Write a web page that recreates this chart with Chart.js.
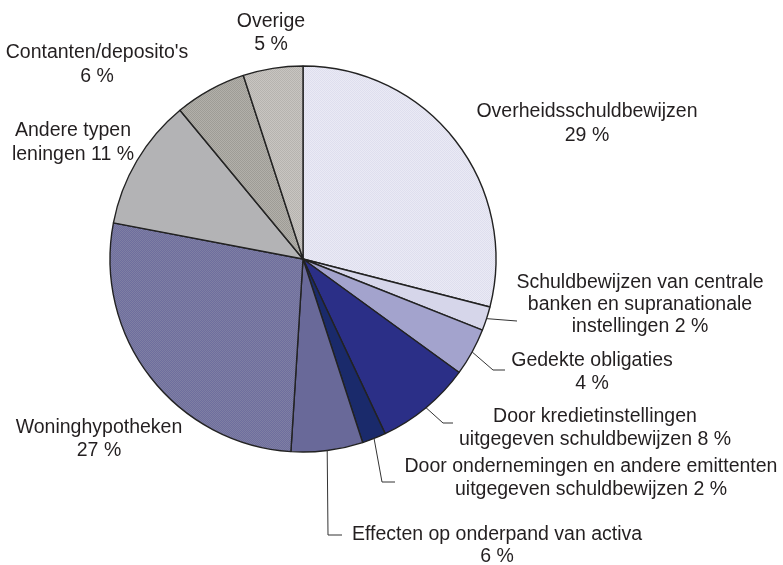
<!DOCTYPE html>
<html>
<head>
<meta charset="utf-8">
<script src="https://cdn.jsdelivr.net/npm/chart.js@4"></script>
<style>
  html, body { margin: 0; padding: 0; background: #fff; }
  #wrap { width: 783px; height: 565px; }
</style>
</head>
<body>
<div id="wrap"><canvas id="pieChart" width="783" height="565"></canvas></div>
<script>
const categories = [
  "Overheidsschuldbewijzen",
  "Schuldbewijzen van centrale banken en supranationale instellingen",
  "Gedekte obligaties",
  "Door kredietinstellingen uitgegeven schuldbewijzen",
  "Door ondernemingen en andere emittenten uitgegeven schuldbewijzen",
  "Effecten op onderpand van activa",
  "Woninghypotheken",
  "Andere typen leningen",
  "Contanten/deposito's",
  "Overige"
];
const shares = [29, 2, 4, 8, 2, 6, 27, 11, 6, 5];

// how each label is broken into lines; "{v}" becomes the share
const labelLines = [
  ["Overheidsschuldbewijzen", "{v} %"],
  ["Schuldbewijzen van centrale", "banken en supranationale", "instellingen {v} %"],
  ["Gedekte obligaties", "{v} %"],
  ["Door kredietinstellingen", "uitgegeven schuldbewijzen {v} %"],
  ["Door ondernemingen en andere emittenten", "uitgegeven schuldbewijzen {v} %"],
  ["Effecten op onderpand van activa", "{v} %"],
  ["Woninghypotheken", "{v} %"],
  ["Andere typen", "leningen {v} %"],
  ["Contanten/deposito's", "{v} %"],
  ["Overige", "{v} %"]
];

// label placement (text centre x, first line y, line gap) and leader path
const labelLayout = [
  { x: 587, y: 112, gap: 24, leader: null },
  { x: 640, y: 283, gap: 22, leader: [[517, 321]] },
  { x: 592, y: 361, gap: 23, leader: [[493, 370], [505, 370]] },
  { x: 595, y: 417, gap: 23, leader: [[443, 423], [453, 423]] },
  { x: 591, y: 467, gap: 23, leader: [[382, 482], [395, 482]] },
  { x: 497, y: 535, gap: 22, leader: [[328, 535], [342, 535]] },
  { x: 99, y: 428, gap: 23, leader: null },
  { x: 73, y: 131, gap: 24, leader: null },
  { x: 97, y: 53, gap: 24, leader: null },
  { x: 271, y: 22, gap: 23, leader: null }
];

function makePattern(base, dot, size) {
  const c = document.createElement("canvas");
  c.width = size;
  c.height = size;
  const g = c.getContext("2d");
  g.fillStyle = base;
  g.fillRect(0, 0, size, size);
  g.fillStyle = dot;
  const h = size / 2;
  g.fillRect(0, 0, h, h);
  g.fillRect(h, h, h, h);
  return g.createPattern(c, "repeat");
}

const sliceColors = [
  makePattern("#eaeaf5", "#dedeee", 2),
  "#d6d6ea",
  "#a3a3cd",
  "#2b2f87",
  "#1a2a6b",
  "#696999",
  makePattern("#6e6e9e", "#7f7fa3", 2),
  "#b3b3b5",
  makePattern("#b2b0aa", "#9e9c96", 2),
  makePattern("#c8c5c1", "#b6b3af", 2)
];

const labelPlugin = {
  id: "sliceLabels",
  afterDraw(chart) {
    const ctx = chart.ctx;
    const arcs = chart.getDatasetMeta(0).data;
    ctx.save();
    ctx.font = "19.5px 'Liberation Sans', Arial, sans-serif";
    ctx.fillStyle = "#231f20";
    ctx.textAlign = "center";
    ctx.textBaseline = "middle";
    arcs.forEach((arc, i) => {
      const lay = labelLayout[i];
      labelLines[i].forEach((line, k) => {
        ctx.fillText(line.replace("{v}", shares[i]), lay.x, lay.y + k * lay.gap);
      });
      if (lay.leader) {
        const mid = (arc.startAngle + arc.endAngle) / 2;
        ctx.beginPath();
        ctx.strokeStyle = "#333";
        ctx.lineWidth = 1;
        ctx.moveTo(arc.x + Math.cos(mid) * arc.outerRadius, arc.y + Math.sin(mid) * arc.outerRadius);
        lay.leader.forEach(p => ctx.lineTo(p[0], p[1]));
        ctx.stroke();
      }
    });
    ctx.restore();
  }
};

new Chart(document.getElementById("pieChart"), {
  type: "pie",
  data: {
    labels: categories,
    datasets: [{
      data: shares,
      backgroundColor: sliceColors,
      borderColor: "#222",
      borderWidth: 1.4
    }]
  },
  options: {
    responsive: false,
    animation: false,
    radius: 193,
    layout: { padding: { left: 0, right: 177, top: 0, bottom: 47 } },
    plugins: {
      legend: { display: false },
      tooltip: { enabled: false }
    }
  },
  plugins: [labelPlugin]
});
</script>
</body>
</html>
